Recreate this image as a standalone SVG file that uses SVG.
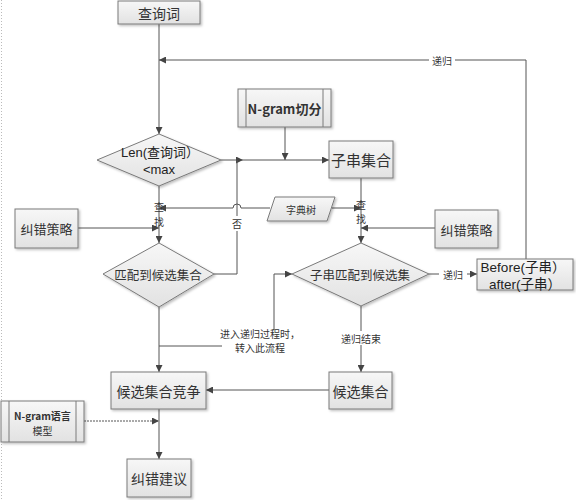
<svg xmlns="http://www.w3.org/2000/svg" width="576" height="500" viewBox="0 0 576 500">
<defs>
<linearGradient id="g" x1="0" y1="0" x2="0" y2="1"><stop offset="0" stop-color="#f7f7f7"/><stop offset="1" stop-color="#e2e2e2"/></linearGradient>
<marker id="a" viewBox="0 0 10 10" refX="10" refY="5" markerWidth="7" markerHeight="7" orient="auto" markerUnits="userSpaceOnUse"><path d="M0,0 L10,5 L0,10 z" fill="#444"/></marker>
<filter id="s" x="-10%" y="-10%" width="130%" height="130%"><feDropShadow dx="1.5" dy="1.5" stdDeviation="0.8" flood-color="#000" flood-opacity="0.25"/></filter>
</defs>
<style>
.n{fill:url(#g);stroke:#7a7a7a;stroke-width:1;filter:url(#s)}
.l{fill:none;stroke:#555;stroke-width:1}
.t{font-family:"Noto Sans CJK SC","Liberation Sans",sans-serif;fill:#333;text-anchor:middle;dominant-baseline:central}
.lat{font-family:"Liberation Sans","Noto Sans CJK SC",sans-serif;fill:#222;text-anchor:middle;dominant-baseline:central}
.s{font-size:10px}
.bg{fill:#fff}
</style>
<rect width="576" height="500" fill="#fff"/>
<line x1="1.5" y1="0" x2="1.5" y2="500" stroke="#bbb" stroke-dasharray="1,2"/>

<g id="connectors">
<path class="l" d="M159,24 V134" marker-end="url(#a)"/>
<path class="l" d="M526,259 V60 H159" marker-end="url(#a)"/>
<path class="l" d="M221,160 H243" marker-end="url(#a)"/>
<path class="l" d="M243,160 H329" marker-end="url(#a)"/>
<path class="l" d="M285,127 V160" marker-end="url(#a)"/>
<path class="l" d="M214,274 H237 V160"/>
<path class="l" d="M159,186 V243" marker-end="url(#a)"/>
<path class="l" d="M270,208 H241 A4,4 0 0 0 233,208 H159" marker-end="url(#a)"/>
<path class="l" d="M78,228 H159" marker-end="url(#a)"/>
<path class="l" d="M361,178 V243" marker-end="url(#a)"/>
<path class="l" d="M332,208 H361" marker-end="url(#a)"/>
<path class="l" d="M435,228 H361" marker-end="url(#a)"/>
<path class="l" d="M429,274 H477" marker-end="url(#a)"/>
<path class="l" d="M361,306 V372" marker-end="url(#a)"/>
<path class="l" d="M329,390 H206" marker-end="url(#a)"/>
<path class="l" d="M159,307 V372" marker-end="url(#a)"/>
<path class="l" d="M159,346 H222"/>
<path class="l" d="M274,330 V274 H292" marker-end="url(#a)"/>
<path class="l" d="M84,421 H159" marker-end="url(#a)" stroke-dasharray="2,1"/>
<path class="l" d="M159,409 V459" marker-end="url(#a)"/>
<rect class="bg" x="429" y="53" width="26" height="14"/>
<text class="t s" x="442" y="60">递归</text>
<rect class="bg" x="230" y="216" width="14" height="15"/>
<text class="t s" x="237" y="223">否</text>
<text class="t s" x="159" y="206">查</text>
<text class="t s" x="159" y="221">找</text>
<text class="t s" x="361" y="204">查</text>
<text class="t s" x="361" y="218">找</text>
<rect class="bg" x="439" y="267" width="28" height="14"/>
<text class="t s" x="453" y="274">递归</text>
<rect class="bg" x="338" y="331" width="46" height="14"/>
<text class="t s" x="361" y="338">递归结束</text>
<text class="t s" x="260" y="333">进入递归过程时，</text>
<text class="t s" x="260" y="347">转入此流程</text>
</g>

<g id="n-query"><rect class="n" x="118" y="1" width="82" height="23"/><text class="t" x="159" y="12.5" font-size="14">查询词</text></g>
<g id="n-ngram"><rect class="n" x="238" y="89" width="93" height="38"/><line x1="246" y1="89" x2="246" y2="127" stroke="#7a7a7a"/><line x1="323" y1="89" x2="323" y2="127" stroke="#7a7a7a"/><text class="t" x="284.5" y="108" font-size="13" font-weight="bold">N-gram切分</text></g>
<g id="n-len"><path class="n" d="M159,134 L221,160 L159,186 L97,160 Z"/><text class="lat" x="160" y="152" font-size="13">Len(查询词）</text><text class="lat" x="159" y="169" font-size="13">&lt;max</text></g>
<g id="n-substr"><rect class="n" x="329" y="141" width="64" height="37"/><text class="t" x="361" y="159.5" font-size="15">子串集合</text></g>
<g id="n-dict"><path class="n" d="M275,197 L335,197 L327,221 L267,221 Z"/><text class="t s" x="301" y="209">字典树</text></g>
<g id="n-strat1"><rect class="n" x="15" y="209" width="63" height="39"/><text class="t" x="46.5" y="228.5" font-size="13">纠错策略</text></g>
<g id="n-strat2"><rect class="n" x="435" y="210" width="63" height="38"/><text class="t" x="466.5" y="229" font-size="13">纠错策略</text></g>
<g id="n-match1"><path class="n" d="M159,243 L214,274 L159,307 L103,274 Z"/><text class="t" x="158" y="274" font-size="12.5">匹配到候选集合</text></g>
<g id="n-match2"><path class="n" d="M361,243 L429,274 L361,306 L292,274 Z"/><text class="t" x="360" y="274" font-size="12.5">子串匹配到候选集</text></g>
<g id="n-before"><rect class="n" x="477" y="259" width="96" height="31"/><text class="lat" x="523" y="267" font-size="13.5">Before(子串）</text><text class="lat" x="525" y="284" font-size="13.5">after(子串）</text></g>
<g id="n-cand"><rect class="n" x="329" y="372" width="63" height="37"/><text class="t" x="360.5" y="390.5" font-size="14">候选集合</text></g>
<g id="n-compete"><rect class="n" x="111" y="372" width="95" height="37"/><text class="t" x="158.5" y="390.5" font-size="14">候选集合竞争</text></g>
<g id="n-lm"><rect class="n" x="1" y="401" width="83" height="41"/><line x1="9" y1="401" x2="9" y2="442" stroke="#7a7a7a"/><line x1="76" y1="401" x2="76" y2="442" stroke="#7a7a7a"/><text class="t s" x="42.5" y="415" font-weight="bold">N-gram语言</text><text class="t s" x="42.5" y="430">模型</text></g>
<g id="n-suggest"><rect class="n" x="127" y="459" width="64" height="38"/><text class="t" x="159" y="478" font-size="14">纠错建议</text></g>
</svg>
